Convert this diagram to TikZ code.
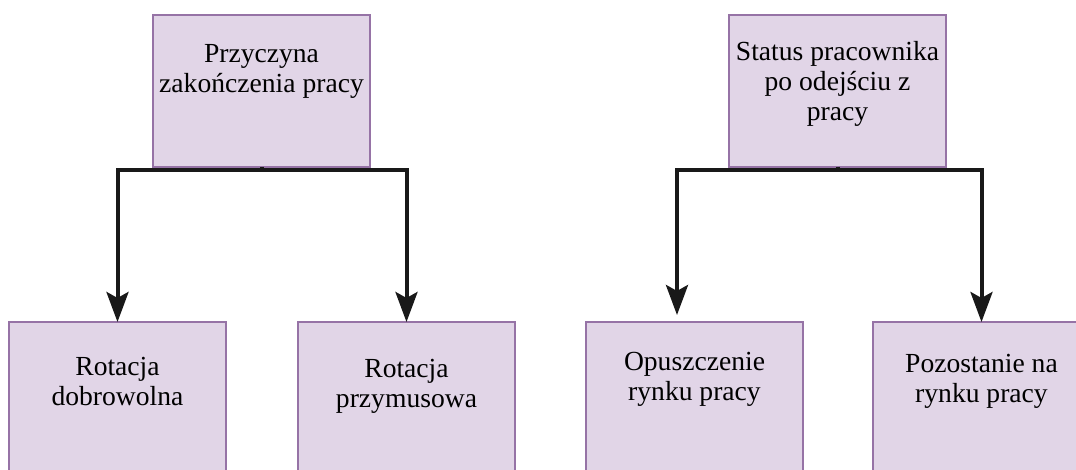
\documentclass[tikz,border=0pt]{standalone}
\usepackage{fontspec}
\setmainfont{Liberation Serif}
\usetikzlibrary{arrows.meta}
\definecolor{boxfill}{HTML}{E1D5E7}
\definecolor{boxline}{HTML}{9673A6}
\newcommand\bxt[2]{\parbox[t][76pt][t]{108.5pt}{\centering\fontsize{13.8pt}{15pt}\selectfont\rule{0pt}{#1}#2}}
\begin{document}
\begin{tikzpicture}[x=0.5pt,y=-0.5pt,
  stepbox/.style={draw=boxline,fill=boxfill,line width=0.75pt,inner sep=0pt,outer sep=0pt,anchor=north west},
  conn/.style={draw=black!90,line width=2pt,-{Stealth[length=15pt,width=11pt,inset=3pt]}}]
\useasboundingbox (0,0) rectangle (1076,470);
% left tree
\node[stepbox] (p1) at (153,15) {\bxt{24pt}{Przyczyna\\zakończenia pracy}};
\node[stepbox] (c1) at (9,322) {\bxt{26.5pt}{Rotacja\\dobrowolna}};
\node[stepbox] (c2) at (298,322) {\bxt{27.5pt}{Rotacja\\przymusowa}};
% right tree
\node[stepbox] (p2) at (729,15) {\bxt{23pt}{Status pracownika\\po odejściu z\\pracy}};
\node[stepbox] (c3) at (586,322) {\bxt{24pt}{Opuszczenie\\rynku pracy}};
\node[stepbox] (c4) at (873,322) {\bxt{25pt}{Pozostanie na\\rynku pracy}};
% connectors
\draw[conn] (p1.south) -- ++(0,3) -| (c1.north);
\draw[conn] (p1.south) -- ++(0,3) -| (c2.north);
\draw[conn] (p2.south) -- ++(0,3) -| ([xshift=-8.75pt,yshift=3.5pt]c3.north);
\draw[conn] (p2.south) -- ++(0,3) -| (c4.north);
\end{tikzpicture}
\end{document}
